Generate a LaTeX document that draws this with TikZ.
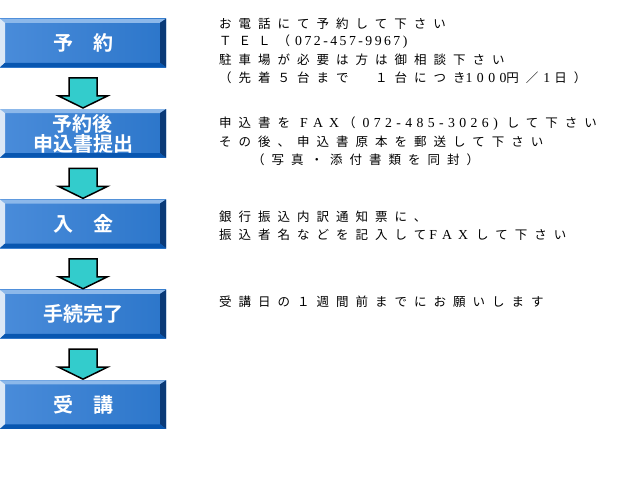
\documentclass[tikz,border=0pt]{standalone}
\usepackage{fontspec}
\usepackage{xcolor}
\usepackage{tikz}
\usetikzlibrary{positioning,calc}

\newfontfamily\jp{Noto Sans CJK JP}[LetterSpace=56]
\newfontfamily\jplabel{Noto Sans CJK JP}[BoldFont={Noto Sans CJK JP Bold}]
\newfontfamily\lat{Liberation Serif}[Scale=1.1, LetterSpace=18]
\newfontfamily\latw{Liberation Serif}[Scale=1.1, LetterSpace=32]
\newfontfamily\latf{Liberation Serif}[Scale=1.1, LetterSpace=45]

\definecolor{facel}{HTML}{4A8CDA}
\definecolor{facer}{HTML}{2C76CA}
\definecolor{beveltop}{HTML}{8CB8EA}
\definecolor{bevelleft}{HTML}{DCE8F6}
\definecolor{bevelright}{HTML}{0A3A78}
\definecolor{bevelbottom}{HTML}{0856B0}
\definecolor{arrowfill}{HTML}{33CCCC}

\tikzset{
  stepbox/.style={rectangle, minimum width=166pt, minimum height=48.5pt, inner sep=0pt,
    text=white, align=center, font=\jplabel\bfseries\fontsize{20}{20}\selectfont,
    path picture={
      \shade[left color=facel, right color=facer]
        (path picture bounding box.south west) rectangle (path picture bounding box.north east);
      \fill[beveltop] (path picture bounding box.north west) -- (path picture bounding box.north east)
        -- ($(path picture bounding box.north east)+(-6pt,-4pt)$) -- ($(path picture bounding box.north west)+(5pt,-4pt)$) -- cycle;
      \fill[bevelleft] (path picture bounding box.north west) -- ($(path picture bounding box.north west)+(5pt,-4pt)$)
        -- ($(path picture bounding box.south west)+(5pt,4.5pt)$) -- (path picture bounding box.south west) -- cycle;
      \fill[bevelright] (path picture bounding box.north east) -- (path picture bounding box.south east)
        -- ($(path picture bounding box.south east)+(-6pt,4.5pt)$) -- ($(path picture bounding box.north east)+(-6pt,-4pt)$) -- cycle;
      \fill[bevelbottom] (path picture bounding box.south west) -- (path picture bounding box.south east)
        -- ($(path picture bounding box.south east)+(-6pt,4.5pt)$) -- ($(path picture bounding box.south west)+(5pt,4.5pt)$) -- cycle;
    }},
  flowarrow/.style={draw=black, line width=1.5pt, fill=arrowfill, line join=miter},
  note/.style={anchor=west, inner sep=0pt, font=\jp\fontsize{12.5}{15}\selectfont}
}

\begin{document}
\begin{tikzpicture}[x=1pt, y=-1pt]
    % Page
    \fill[white] (0,0) rectangle (640,480);
    \useasboundingbox (0,0) rectangle (640,480);

    % Steps
    \node[stepbox] (yoyaku) at (83,43) {予　約};
    \node[stepbox, below=41.5pt of yoyaku] (teishutsu) {予約後\\申込書提出};
    \node[stepbox, below=41.5pt of teishutsu] (nyukin) {入　金};
    \node[stepbox, below=41.5pt of nyukin] (kanryo) {手続完了};
    \node[stepbox, below=41.5pt of kanryo] (juko) {受　講};

    % Arrows between the steps
    \foreach \a/\b in {yoyaku/teishutsu, teishutsu/nyukin, nyukin/kanryo, kanryo/juko}
        \draw[flowarrow] ($(\a.south)+(-14pt,-10.5pt)$) -- ($(\a.south)+(14pt,-10.5pt)$)
            -- ($(\b.north)+(14pt,13pt)$) -- ($(\b.north)+(24.5pt,13pt)$)
            -- ($(\b.north)+(0pt,1pt)$) -- ($(\b.north)+(-24.5pt,13pt)$)
            -- ($(\b.north)+(-14pt,13pt)$) -- cycle;

    % Notes for each step
    \node[note] (tel1) at (219,24) {お電話にて予約して下さい};
    \node[note] (tel2) at (219,42) {ＴＥＬ（\hspace{5pt}{\lat 072-457-9967)}};
    \node[note] (tel3) at (219,60) {駐車場が必要は方は御相談下さい};
    \node[note] (tel4) at (219,78) {（先着５台まで　１台につき{\latw 1000}円／\hspace{5pt}{\latw 1}\hspace{4pt}日）};

    \node[note] (fax1) at (219,124) {申込書を\hspace{10pt}{\latf FAX}\hspace{4pt}（\hspace{7pt}{\latw 072-485-3026)}\hspace{9pt}して下さい};
    \node[note] (fax2) at (219,142) {その後、申込書原本を郵送して下さい};
    \node[note] (fax3) at (252,160) {（写真・添付書類を同封）};

    \node[note] (bank1) at (219,217) {銀行振込内訳通知票に、};
    \node[note] (bank2) at (219,235) {振込者名などを記入して\hspace{3pt}{\latf FAX}\hspace{8pt}して下さい};

    \node[note] (week) at (219,302) {受講日の１週間前までにお願いします};
\end{tikzpicture}
\end{document}
